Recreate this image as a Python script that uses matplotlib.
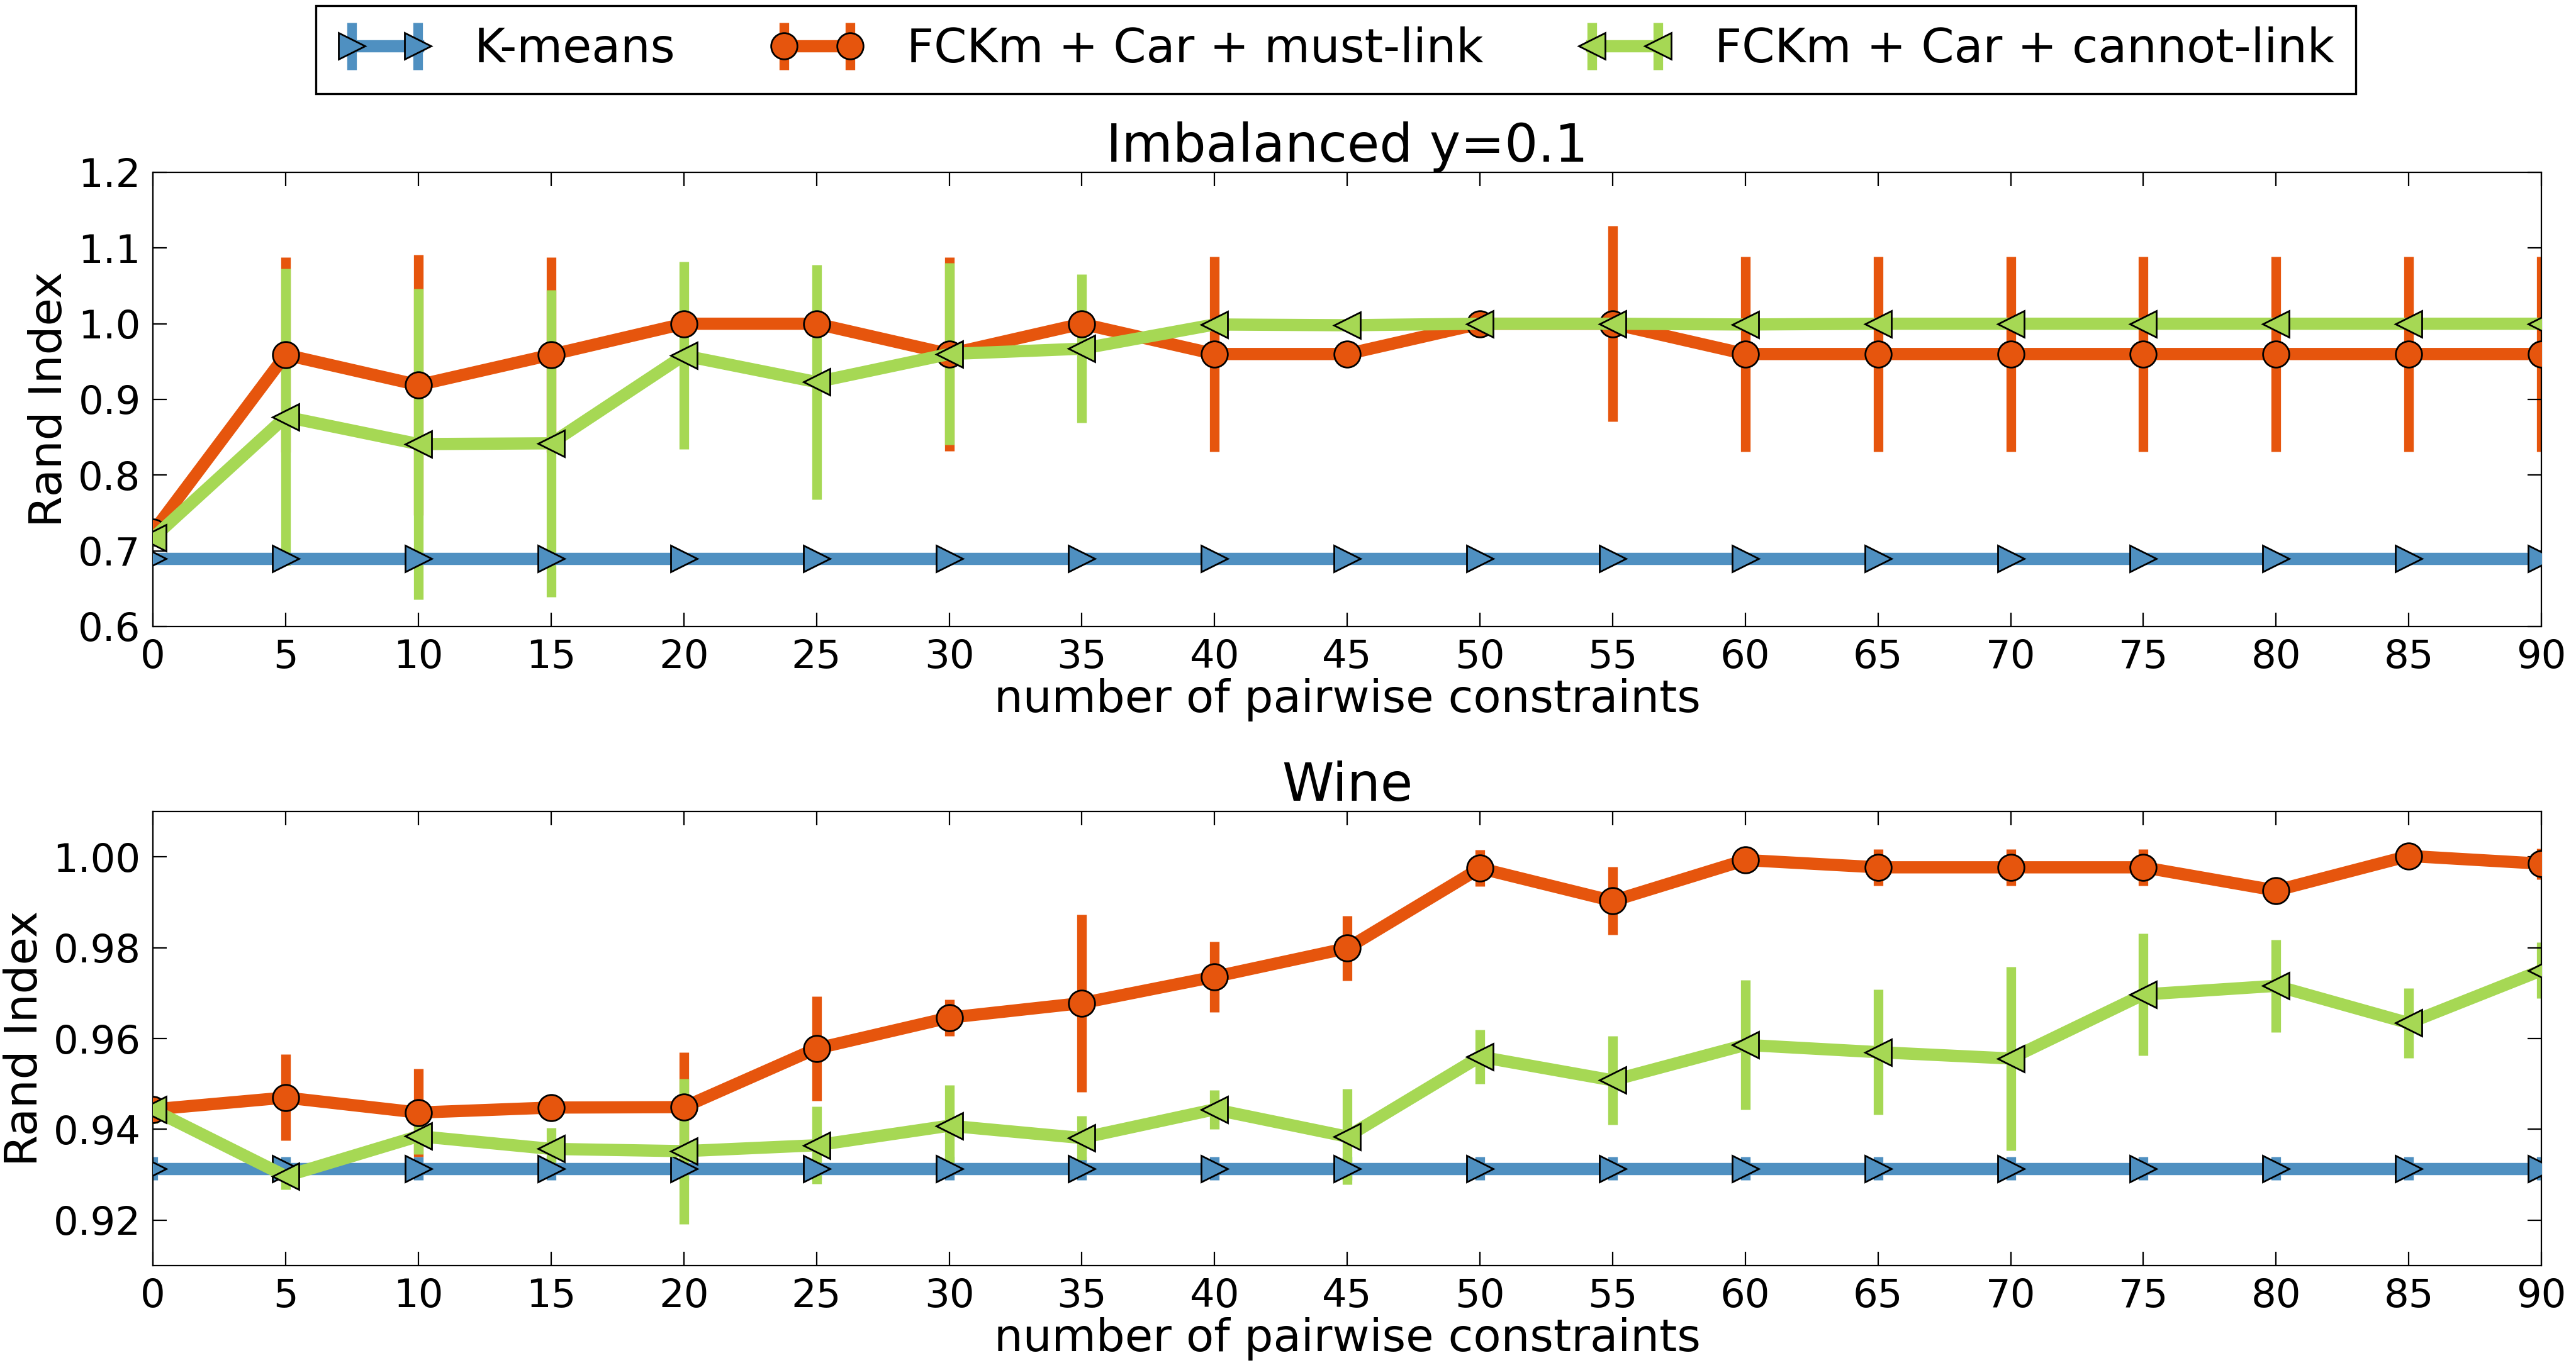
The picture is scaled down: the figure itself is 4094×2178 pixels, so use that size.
import numpy as np
import matplotlib
matplotlib.use('Agg')
import matplotlib.pyplot as plt

# x: number of pairwise constraints
x = [0, 5, 10, 15, 20, 25, 30, 35, 40, 45, 50, 55, 60, 65, 70, 75, 80, 85, 90]
labels = ['K-means', 'FCKm + Car + must-link', 'FCKm + Car + cannot-link']

# Imbalanced y=0.1
imb_kmeans = [0.69] * 19
imb_kmeans_err = [0.0] * 19
imb_must = [0.725, 0.959, 0.919, 0.959, 1.0, 1.0, 0.96, 1.0, 0.96, 0.96, 1.0, 1.0,
            0.96, 0.96, 0.96, 0.96, 0.96, 0.96, 0.96]
imb_must_err = [0.0, 0.129, 0.172, 0.129, 0.0, 0.0, 0.128, 0.0, 0.129, 0.0, 0.0, 0.129,
                0.129, 0.129, 0.129, 0.129, 0.129, 0.129, 0.129]
imb_cannot = [0.717, 0.877, 0.841, 0.842, 0.958, 0.923, 0.96, 0.967, 0.999, 0.998, 1.0, 1.0,
              0.999, 1.0, 1.0, 1.0, 1.0, 1.0, 1.0]
imb_cannot_err = [0.0, 0.196, 0.205, 0.203, 0.124, 0.155, 0.12, 0.098, 0.0, 0.0, 0.0, 0.0,
                  0.0, 0.0, 0.0, 0.0, 0.0, 0.0, 0.0]

# Wine
wine_kmeans = [0.9314] * 19
wine_kmeans_err = [0.0025] * 19
wine_must = [0.9444, 0.947, 0.9437, 0.9448, 0.9449, 0.9578, 0.9646, 0.9678, 0.9736, 0.9799,
             0.9975, 0.9903, 0.9993, 0.9977, 0.9977, 0.9977, 0.9926, 1.0002, 0.9985]
wine_must_err = [0.0015, 0.0095, 0.0097, 0.0027, 0.012, 0.0115, 0.004, 0.0195, 0.0078, 0.0071,
                 0.004, 0.0075, 0.0005, 0.004, 0.004, 0.004, 0.0005, 0.0005, 0.0034]
wine_cannot = [0.9443, 0.9297, 0.9385, 0.9357, 0.9352, 0.9365, 0.9408, 0.9381, 0.9444, 0.9384,
               0.956, 0.9508, 0.9586, 0.957, 0.9556, 0.9697, 0.9716, 0.9634, 0.975]
wine_cannot_err = [0.003, 0.003, 0.004, 0.0046, 0.016, 0.0085, 0.009, 0.0048, 0.0043, 0.0105,
                   0.006, 0.0098, 0.0143, 0.0138, 0.0202, 0.0135, 0.0102, 0.0077, 0.0062]

colors = ['#4f90c1', '#e6550d', '#a6d854']
markers = ['>', 'o', '<']

fig = plt.figure(figsize=(20.47, 10.89), dpi=200)
ax1 = fig.add_axes([0.0594, 0.5427, 0.9272, 0.3315])
ax2 = fig.add_axes([0.0594, 0.0762, 0.9272, 0.3315])


def draw(ax, series, title, ylim, yticks, fmt):
    handles = []
    for i, (y, e) in enumerate(series):
        h = ax.errorbar(x, y, yerr=e, color=colors[i], marker=markers[i], markersize=15,
                        markeredgecolor='black', markeredgewidth=1, linewidth=7,
                        elinewidth=5.5, capsize=0, label=labels[i])
        h[0].set_zorder(3 + i)
        for b in h[2]:
            b.set_zorder(1 + 0.1 * i)
        handles.append(h)
    ax.set_xlim(0, 90)
    ax.set_xticks(range(0, 91, 5))
    ax.set_ylim(*ylim)
    ax.set_yticks(yticks)
    ax.set_yticklabels([fmt % v for v in yticks])
    ax.tick_params(direction='in', top=True, right=True, labelsize=22.5, length=8, pad=7)
    ax.set_xlabel('number of pairwise constraints', fontsize=26, labelpad=1)
    ax.set_ylabel('Rand Index', fontsize=26)
    ax.set_title(title, fontsize=30)
    return handles


hs = draw(ax1, [(imb_kmeans, imb_kmeans_err), (imb_must, imb_must_err), (imb_cannot, imb_cannot_err)],
          'Imbalanced y=0.1', (0.6, 1.2), [0.6, 0.7, 0.8, 0.9, 1.0, 1.1, 1.2], '%.1f')
draw(ax2, [(wine_kmeans, wine_kmeans_err), (wine_must, wine_must_err), (wine_cannot, wine_cannot_err)],
     'Wine', (0.91, 1.01), [0.92, 0.94, 0.96, 0.98, 1.00], '%.2f')

leg = fig.legend(hs, labels, loc='upper center', bbox_to_anchor=(0.5186, 0.996), ncol=3,
                 fontsize=27, numpoints=2, fancybox=False, edgecolor='black', framealpha=1,
                 columnspacing=2.0, handlelength=2.0, handletextpad=0.9, borderaxespad=0,
                 borderpad=0.45)
leg.get_frame().set_linewidth(1.2)

fig.savefig('out.png', dpi=200)
